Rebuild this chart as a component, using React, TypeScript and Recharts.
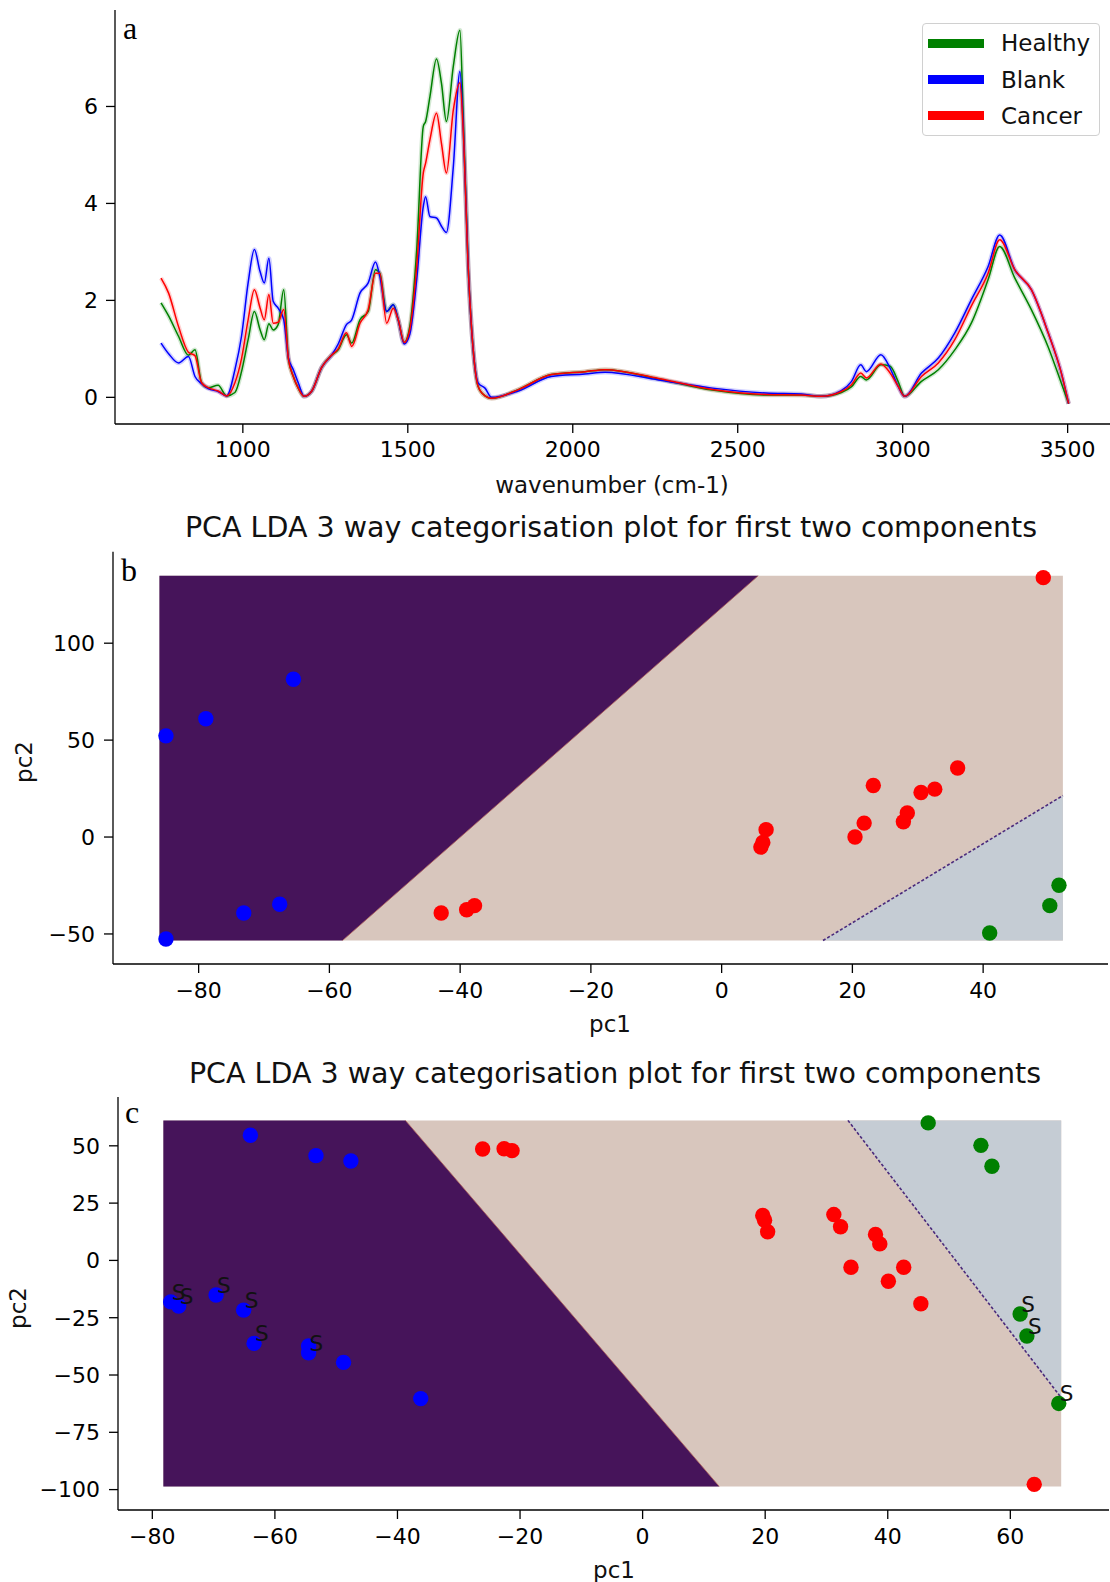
import React from 'react';
import { ComposedChart, LineChart, Line, Area, Scatter, XAxis, YAxis } from 'recharts';

// ---- panel a: mean spectra ----
const wavenumbers = [
  752, 775, 805, 835, 855, 875, 895, 925, 951, 976, 996, 1016, 1035, 1052, 1065, 1079, 1092, 1107, 1124, 1138,
  1153, 1168, 1186, 1208, 1239, 1269, 1289,
  1314, 1330, 1355, 1380, 1402, 1415, 1436, 1456, 1471, 1489, 1506, 1527, 1547, 1554, 1567, 1587, 1602, 1617,
  1638, 1658, 1668, 1683, 1698, 1713, 1734, 1754,
  1835, 1935, 2037, 2098, 2260, 2423, 2585, 2693,
  2753, 2814, 2845, 2873, 2890, 2934, 2962, 2986, 3006, 3057, 3108, 3158, 3208, 3259, 3294, 3340, 3390, 3441,
  3481, 3503,
];
const healthySpectrum = [
  1.95, 1.68, 1.26, 0.87, 0.98, 0.3, 0.2, 0.25, 0.03, 0.1, 0.53, 1.19, 1.77, 1.4, 1.19, 1.52, 1.39, 1.5, 2.22, 0.8,
  0.43, 0.19, 0.02, 0.12, 0.62, 0.87, 0.98,
  1.29, 1.12, 1.6, 1.77, 2.63, 2.56, 1.77, 1.91, 1.6, 1.13, 1.46, 3.04, 5.59, 5.69, 6.2, 6.98, 6.48, 5.69,
  6.83, 7.57, 5.8, 2.7, 1.0, 0.23, 0.03, -0.02,
  0.16, 0.47, 0.53, 0.57, 0.38, 0.15, 0.05, 0.05,
  0.02, 0.1, 0.22, 0.43, 0.36, 0.67, 0.64, 0.33, 0.02, 0.33, 0.57, 0.98, 1.53, 2.43, 3.11, 2.46, 1.81, 1.04,
  0.29, -0.13,
];
const blankSpectrum = [
  1.12, 0.9, 0.71, 0.84, 0.43, 0.28, 0.18, 0.12, 0.03, 0.57, 1.26, 2.36, 3.05, 2.6, 2.36, 2.87, 1.98, 1.84, 1.6, 0.82,
  0.57, 0.3, 0.02, 0.12, 0.62, 0.87, 1.1,
  1.5, 1.6, 2.15, 2.36, 2.79, 2.5, 1.77, 1.91, 1.6, 1.1, 1.3, 2.43, 3.94, 4.14, 3.73, 3.7, 3.53, 3.4,
  4.76, 6.72, 5.6, 2.7, 1.0, 0.3, 0.19, 0.0,
  0.13, 0.43, 0.48, 0.52, 0.36, 0.19, 0.09, 0.07,
  0.02, 0.14, 0.33, 0.67, 0.53, 0.88, 0.6, 0.23, 0.02, 0.5, 0.81, 1.33, 2.01, 2.7, 3.35, 2.63, 2.22, 1.33,
  0.5, -0.13,
];
const cancerSpectrum = [
  2.46, 2.15, 1.46, 0.93, 0.86, 0.3, 0.2, 0.13, 0.03, 0.3, 0.8, 1.6, 2.22, 1.85, 1.6, 2.12, 1.53, 1.55, 1.81, 0.8,
  0.43, 0.19, 0.02, 0.12, 0.62, 0.87, 1.0,
  1.33, 1.05, 1.53, 1.81, 2.56, 2.56, 1.53, 1.84, 1.6, 1.13, 1.4, 2.7, 4.63, 4.83, 5.31, 5.86, 5.24, 4.63,
  5.93, 6.49, 5.5, 2.7, 1.0, 0.23, 0.03, -0.02,
  0.16, 0.47, 0.53, 0.57, 0.39, 0.16, 0.06, 0.05,
  0.02, 0.12, 0.26, 0.5, 0.4, 0.69, 0.5, 0.23, 0.02, 0.43, 0.71, 1.19, 1.88, 2.56, 3.25, 2.63, 2.22, 1.33,
  0.5, -0.13,
];
const spectrumTicksX = [1000, 1500, 2000, 2500, 3000, 3500];
const spectrumTicksY = [0, 2, 4, 6];
const seriesNames = ['Healthy', 'Blank', 'Cancer'];

// ---- panel b: pc1/pc2 scores ----
const blankB = [[-85, 52.2], [-78.9, 61], [-65.5, 81.4], [-73.1, -39.2], [-67.6, -34.7], [-85, -52.6]];
const cancerB = [
  [-42.9, -39.2], [-39, -37.5], [-37.8, -35.4], [49.2, 133.8], [36.1, 35.6], [23.2, 26.6], [30.5, 23],
  [32.6, 24.7], [28.4, 12.4], [27.8, 7.9], [21.8, 7.2], [20.4, 0], [6.8, 3.8], [6.3, -2.8], [6, -5.2],
];
const healthyB = [[51.6, -24.9], [50.2, -35.4], [41, -49.5]];
const meshXB = [-86, 52.2];
const meshYB = [-53.4, 134.8];
const edgeBlankB = [[-58, -53.4], [5.6, 134.8]];
const edgeHealthyB = [[15.5, -53.4], [52.2, 21.4]];
const ticksXB = [-80, -60, -40, -20, 0, 20, 40];
const ticksYB = [-50, 0, 50, 100];

// ---- panel c: pc1/pc2 scores, S = flagged samples ----
const blankC = [
  [-64, 54.6], [-53.3, 45.7], [-47.6, 43.4], [-77, -18.1], [-75.7, -19.9], [-69.6, -15.1], [-65.1, -21.7],
  [-63.4, -36.2], [-54.5, -37.3], [-54.5, -40.3], [-48.8, -44.5], [-36.2, -60.3],
];
const cancerC = [
  [-26.1, 48.6], [-22.6, 48.7], [-21.3, 47.9], [19.6, 19.6], [19.9, 17.5], [20.4, 12.5], [31.2, 20],
  [32.3, 14.7], [38, 11.3], [38.7, 7.2], [34, -3], [42.6, -3], [40.1, -9.1], [45.4, -18.9], [63.9, -97.7],
];
const healthyC = [[46.6, 60], [55.2, 50.2], [57, 41.1], [61.6, -23.4], [62.7, -33], [67.9, -62.4]];
const flaggedC = [
  [-77, -18.1], [-75.7, -19.9], [-69.6, -15.1], [-65.1, -21.7], [-63.4, -36.2], [-54.5, -40.3],
  [61.6, -23.4], [62.7, -33], [67.9, -62.4],
];
const meshXC = [-78.2, 68.3];
const meshYC = [-98.6, 61.1];
const edgeBlankC = [[-38.7, 61.1], [12.5, -98.6]];
const edgeHealthyC = [[33.5, 61.1], [68.3, -59.9]];
const ticksXC = [-80, -60, -40, -20, 0, 20, 40, 60];
const ticksYC = [-100, -75, -50, -25, 0, 25, 50];

const SANS = '"DejaVu Sans", "Noto Sans", sans-serif';
const SERIF = '"Liberation Serif", "Times New Roman", serif';
const COLORS = { Healthy: '#008000', Blank: '#0000ff', Cancer: '#ff0000' } as Record<string, string>;
const REGION = { blank: '#46145a', cancer: '#d8c6bd', healthy: '#c5ccd4' };

const fmt = (v: number) => (v < 0 ? '\u2212' + Math.abs(v) : String(v));
const tickStyle = { fill: '#000', fontSize: 22, fontFamily: SANS };
const toPts = (arr: number[][]) => arr.map(([x, y]) => ({ x, y }));

const spectra = wavenumbers.map((wn, i) => ({
  wn,
  Healthy: healthySpectrum[i],
  Blank: blankSpectrum[i],
  Cancer: cancerSpectrum[i],
}));

function SpectraPanel() {
  return (
    <div style={{ position: 'absolute', left: 0, top: 0 }}>
      <LineChart width={1120} height={490} data={spectra} margin={{ top: 10, right: 7, left: 0, bottom: 0 }}>
        <XAxis dataKey="wn" type="number" domain={[612.5, 3637.5]} ticks={spectrumTicksX} allowDataOverflow
          height={66} tick={tickStyle} tickSize={9} tickMargin={8} stroke="#000" strokeWidth={1.3} />
        <XAxis xAxisId="top" dataKey="wn" type="number" orientation="top" domain={[612.5, 3637.5]} height={0}
          tick={false} tickLine={false} stroke="#000" strokeWidth={1.3} />
        <YAxis type="number" domain={[-0.55, 7.99]} ticks={spectrumTicksY} allowDataOverflow width={115}
          tick={tickStyle} tickSize={9} tickMargin={8} stroke="#000" strokeWidth={1.3} />
        {seriesNames.map((name) => (
          <Line key={name + 'band'} dataKey={name} type="monotone" stroke={COLORS[name]} strokeOpacity={0.18}
            strokeWidth={4.5} dot={false} activeDot={false} isAnimationActive={false} legendType="none" />
        ))}
        {seriesNames.map((name) => (
          <Line key={name} dataKey={name} type="monotone" stroke={COLORS[name]} strokeWidth={1.5}
            dot={false} activeDot={false} isAnimationActive={false} />
        ))}
      </LineChart>
      <div style={{
        position: 'absolute', left: 922, top: 23, width: 178, height: 113, boxSizing: 'border-box',
        border: '1px solid #d0d0d0', borderRadius: 4, background: 'rgba(255,255,255,0.85)', paddingTop: 1,
      }}>
        {seriesNames.map((name) => (
          <div key={name} style={{ height: 36.4, display: 'flex', alignItems: 'center' }}>
            <span style={{ display: 'inline-block', width: 56, height: 9, marginLeft: 5, background: COLORS[name] }} />
            <span style={{ marginLeft: 17, fontFamily: SANS, fontSize: 23, color: '#111' }}>{name}</span>
          </div>
        ))}
      </div>
    </div>
  );
}

type PanelProps = {
  top: number; height: number; yWidth: number; marginTop: number; marginRight: number; xHeight: number;
  xDomain: number[]; yDomain: number[]; xTicks: number[]; yTicks: number[];
  meshX: number[]; meshY: number[];
  blankRegion: { x: number; range: number[] }[]; healthyRegion: { x: number; range: number[] }[];
  edges: number[][][];
  blank: number[][]; cancer: number[][]; healthy: number[][]; flagged: number[][];
};

function ScorePanel(p: PanelProps) {
  const dot = (color: string) => (s: any) => <circle cx={s.cx} cy={s.cy} r={7.7} fill={color} />;
  const cancerRegion = [
    { x: p.meshX[0], range: p.meshY },
    { x: p.meshX[1], range: p.meshY },
  ];
  return (
    <div style={{ position: 'absolute', left: 0, top: p.top }}>
      <ComposedChart width={1112} height={p.height}
        margin={{ top: p.marginTop, right: p.marginRight, left: 0, bottom: 0 }}>
        <XAxis dataKey="x" type="number" domain={p.xDomain} ticks={p.xTicks} allowDataOverflow height={p.xHeight}
          tick={tickStyle} tickFormatter={fmt} tickSize={9} tickMargin={9} stroke="#000" strokeWidth={1.3} />
        <XAxis xAxisId="top" dataKey="x" type="number" orientation="top" domain={p.xDomain} height={0}
          tick={false} tickLine={false} stroke="#000" strokeWidth={1.3} />
        <YAxis dataKey="y" type="number" domain={p.yDomain} ticks={p.yTicks} allowDataOverflow width={p.yWidth}
          tick={tickStyle} tickFormatter={fmt} tickSize={9} tickMargin={9} stroke="#000" strokeWidth={1.3} />
        <YAxis yAxisId="right" dataKey="y" type="number" orientation="right" domain={p.yDomain} width={0}
          tick={false} tickLine={false} stroke="#000" strokeWidth={1.3} />
        <Area data={cancerRegion} dataKey="range" type="linear" fill={REGION.cancer} fillOpacity={1}
          stroke="none" isAnimationActive={false} />
        <Area data={p.blankRegion} dataKey="range" type="linear" fill={REGION.blank} fillOpacity={1}
          stroke="none" isAnimationActive={false} />
        <Area data={p.healthyRegion} dataKey="range" type="linear" fill={REGION.healthy} fillOpacity={1}
          stroke="none" isAnimationActive={false} />
        <Line data={toPts(p.edges[0])} dataKey="y" type="linear" stroke="#b0605a" strokeWidth={1}
          strokeOpacity={0.8} dot={false} activeDot={false} isAnimationActive={false} />
        <Line data={toPts(p.edges[1])} dataKey="y" type="linear" stroke="#4a2a7c" strokeWidth={1.6}
          strokeDasharray="3 2" dot={false} activeDot={false} isAnimationActive={false} />
        <Scatter data={toPts(p.blank)} shape={dot('#0000ff')} isAnimationActive={false} />
        <Scatter data={toPts(p.cancer)} shape={dot('#ff0000')} isAnimationActive={false} />
        <Scatter data={toPts(p.healthy)} shape={dot('#008000')} isAnimationActive={false} />
        <Scatter data={toPts(p.flagged)} isAnimationActive={false}
          shape={(s: any) => (
            <text x={s.cx + 1} y={s.cy - 2} fontSize={21.5} fontFamily={SANS} fill="#111">S</text>
          )} />
      </ComposedChart>
    </div>
  );
}

const blankRegionB = [
  { x: meshXB[0], range: meshYB },
  { x: edgeBlankB[0][0], range: [edgeBlankB[0][1], meshYB[1]] },
  { x: edgeBlankB[1][0], range: [edgeBlankB[1][1], meshYB[1]] },
];
const healthyRegionB = [
  { x: edgeHealthyB[0][0], range: [meshYB[0], edgeHealthyB[0][1]] },
  { x: edgeHealthyB[1][0], range: [meshYB[0], edgeHealthyB[1][1]] },
];
const blankRegionC = [
  { x: meshXC[0], range: meshYC },
  { x: edgeBlankC[0][0], range: [meshYC[0], edgeBlankC[0][1]] },
  { x: edgeBlankC[1][0], range: [meshYC[0], edgeBlankC[1][1]] },
];
const healthyRegionC = [
  { x: edgeHealthyC[0][0], range: [edgeHealthyC[0][1], meshYC[1]] },
  { x: edgeHealthyC[1][0], range: [edgeHealthyC[1][1], meshYC[1]] },
];

const TITLE = 'PCA LDA 3 way categorisation plot for first two components';

export default function App() {
  const label = { fontFamily: SANS, fontSize: 23, fill: '#111' };
  const letter = { fontFamily: SERIF, fontSize: 32, fill: '#000' };
  return (
    <div style={{ position: 'relative', width: 1110, height: 1582, overflow: 'hidden', background: '#fff' }}>
      <style>{'body{margin:0}'}</style>
      <SpectraPanel />
      <ScorePanel top={540} height={490} yWidth={113} marginTop={11.7} marginRight={4} xHeight={66}
        xDomain={[-93.1, 59.1]} yDomain={[-65.5, 147.2]} xTicks={ticksXB} yTicks={ticksYB}
        meshX={meshXB} meshY={meshYB} blankRegion={blankRegionB} healthyRegion={healthyRegionB}
        edges={[edgeBlankB, edgeHealthyB]} blank={blankB} cancer={cancerB} healthy={healthyB} flagged={[]} />
      <ScorePanel top={1085} height={485} yWidth={118} marginTop={12} marginRight={3} xHeight={60}
        xDomain={[-85.6, 76.1]} yDomain={[-108.9, 71.3]} xTicks={ticksXC} yTicks={ticksYC}
        meshX={meshXC} meshY={meshYC} blankRegion={blankRegionC} healthyRegion={healthyRegionC}
        edges={[edgeBlankC, edgeHealthyC]} blank={blankC} cancer={cancerC} healthy={healthyC} flagged={flaggedC} />
      <svg width={1110} height={1582} style={{ position: 'absolute', left: 0, top: 0, pointerEvents: 'none' }}>
        <text x={123} y={39} {...letter}>a</text>
        <text x={612} y={485} textAnchor="middle" dominantBaseline="central" {...label}>wavenumber (cm-1)</text>
        <text x={611} y={537} textAnchor="middle" fontFamily={SANS} fontSize={28.5} fill="#111">{TITLE}</text>
        <text x={121} y={581} {...letter}>b</text>
        <text x={610} y={1024} textAnchor="middle" dominantBaseline="central" {...label}>pc1</text>
        <text x={24} y={762} textAnchor="middle" dominantBaseline="central" transform="rotate(-90 24 762)" {...label}>pc2</text>
        <text x={615} y={1083} textAnchor="middle" fontFamily={SANS} fontSize={28.5} fill="#111">{TITLE}</text>
        <text x={125} y={1123} {...letter}>c</text>
        <text x={614} y={1570} textAnchor="middle" dominantBaseline="central" {...label}>pc1</text>
        <text x={18} y={1308} textAnchor="middle" dominantBaseline="central" transform="rotate(-90 18 1308)" {...label}>pc2</text>
      </svg>
    </div>
  );
}
